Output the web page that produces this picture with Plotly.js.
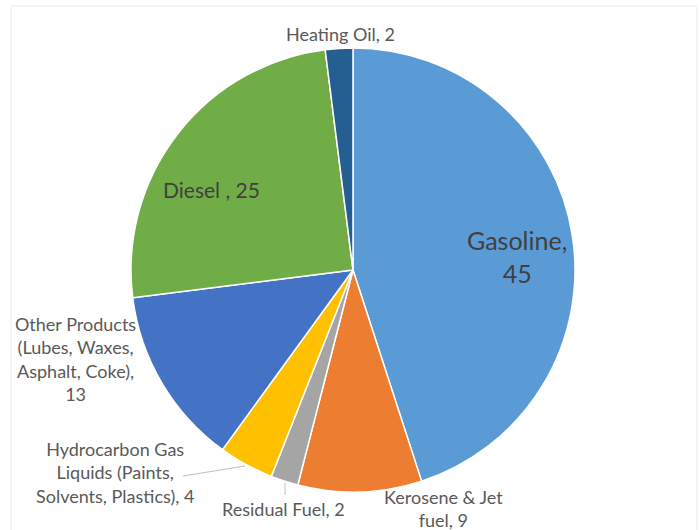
<!DOCTYPE html>
<html>
<head>
<meta charset="utf-8">
<script src="https://cdn.plot.ly/plotly-3.0.1.min.js"></script>
<style>html,body{margin:0;padding:0;background:#fff}#chart{width:700px;height:530px}</style>
</head>
<body>
<div id="chart"></div>
<script>
const categories = ["Gasoline", "Kerosene & Jet fuel", "Residual Fuel", "Hydrocarbon Gas Liquids (Paints, Solvents, Plastics)", "Other Products (Lubes, Waxes, Asphalt, Coke)", "Diesel", "Heating Oil"];
const values = [45, 9, 2, 4, 13, 25, 2];
const colors = ["#5B9BD5", "#ED7D31", "#A5A5A5", "#FFC000", "#4472C4", "#70AD47", "#255E91"];
const labelTexts = ["Gasoline,<br>45", "Kerosene & Jet<br>fuel, 9", "Residual Fuel, 2", "Hydrocarbon Gas<br>Liquids (Paints,<br>Solvents, Plastics), 4", "Other Products<br>(Lubes, Waxes,<br>Asphalt, Coke),<br>13", "Diesel , 25", "Heating Oil, 2"];

const W = 700, H = 530;
const cx = 353, cy = 270, R = 222;
const px = x => x / W;
const py = y => 1 - y / H;

// label placement (pixel centers) and font sizes
const labelPos = [[517, 256, 25], [443, 508, 18], [283, 509, 18], [115, 472, 18], [75, 359, 18], [211, 190, 21], [340, 34, 18]];

const annotations = labelTexts.map((t, i) => ({
  text: t,
  x: px(labelPos[i][0]), y: py(labelPos[i][1]),
  xref: "paper", yref: "paper", xanchor: "center", yanchor: "middle",
  showarrow: false, align: "center",
  font: {family: "Lato, 'Open Sans', sans-serif", size: labelPos[i][2], color: i === 0 || i === 5 ? "#404040" : "#595959"},
  bgcolor: i === 6 ? "rgba(255,255,255,0.85)" : "rgba(0,0,0,0)"
}));

const shapes = [
  {type: "rect", xref: "paper", yref: "paper", x0: px(11), x1: px(697), y0: py(6), y1: py(540), line: {color: "#ebebeb", width: 1}, fillcolor: "rgba(0,0,0,0)", layer: "below"},
  {type: "line", xref: "paper", yref: "paper", x0: px(183), y0: py(476), x1: px(245), y1: py(466), line: {color: "#bfbfbf", width: 1}},
  {type: "line", xref: "paper", yref: "paper", x0: px(285), y0: py(483), x1: px(285), y1: py(495), line: {color: "#bfbfbf", width: 1}}
];

const trace = {
  type: "pie",
  labels: categories,
  values: values,
  sort: false,
  direction: "clockwise",
  rotation: 0,
  marker: {colors: colors, line: {color: "#ffffff", width: 1.5}},
  textinfo: "none",
  hoverinfo: "label+value",
  domain: {x: [px(cx - R), px(cx + R)], y: [py(cy + R), py(cy - R)]},
  showlegend: false
};

Plotly.newPlot("chart", [trace], {
  width: W, height: H,
  margin: {l: 0, r: 0, t: 0, b: 0},
  paper_bgcolor: "#ffffff",
  showlegend: false,
  annotations: annotations,
  shapes: shapes
}, {displayModeBar: false, staticPlot: true});
</script>
</body>
</html>
